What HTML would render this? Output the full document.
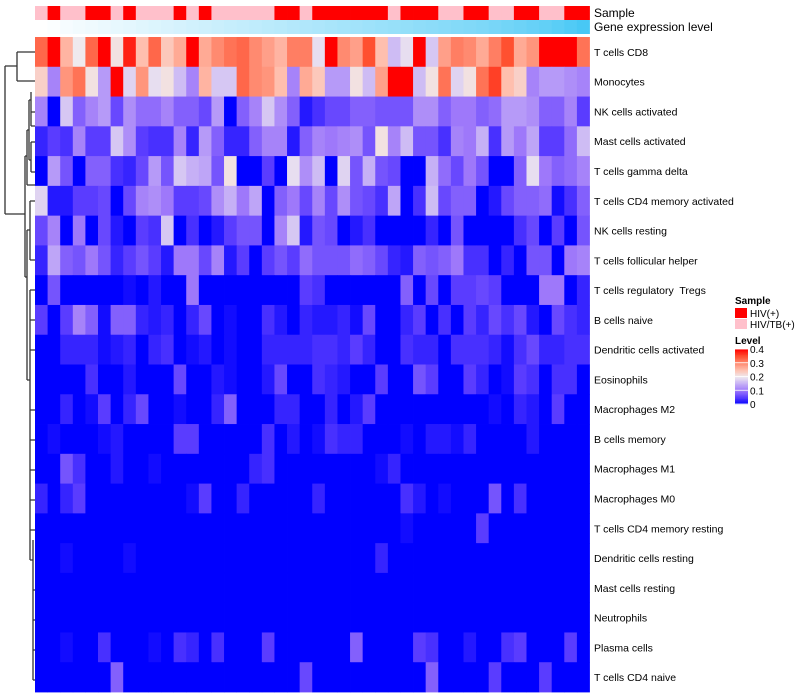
<!DOCTYPE html>
<html><head><meta charset="utf-8">
<style>
body{margin:0;background:#fff;}
svg{display:block;font-family:"Liberation Sans",sans-serif;}
</style></head>
<body>
<svg id="chart" width="800" height="700">
<g id="dendro" stroke="#333" stroke-width="1.3" fill="none">
<path d="M5,66 H17 M17,52 V81 M17,52 H35 M17,81 H35"/>
<path d="M5,66 V214 M5,214 H25"/>
<path d="M25,156 V277 M25,156 H27 M27,130 V185 M27,185 H35 M27,130 H29 M29,100 V160 M29,100 H31 M31,92 V126 M31,112 H35 M31,126 H35 M29,160 H31 M31,142 V172 M31,142 H35 M31,172 H35"/>
<path d="M25,277 H27 M27,230 V380 M27,230 H30 M30,201 V260 M30,201 H35 M30,260 H35 M27,380 H30 M30,290 V560 M30,290 H35 M30,320 H35 M30,350 H35 M30,410 H35 M30,440 H35 M30,470 H35 M30,500 H35 M30,530 H35 M30,560 H33 M33,540 V680 M33,590 H35 M33,620 H35 M33,650 H35 M33,680 H35"/>
</g>
<g id="annot"></g>
<g id="cells"></g>
<g id="rowlabels" font-size="10.5" fill="#000"></g>
<text x="594" y="17" font-size="12">Sample</text>
<text x="594" y="31" font-size="12">Gene expression level</text>
<g font-size="10">
<text x="735" y="304" font-weight="bold">Sample</text>
<rect x="735" y="308" width="12" height="10" fill="#ff0000"/>
<text x="750" y="317">HIV(+)</text>
<rect x="735" y="319" width="12" height="10" fill="#ffc0cb"/>
<text x="750" y="328">HIV/TB(+)</text>
<text x="735" y="344" font-weight="bold">Level</text>
<g id="colorbar"></g>
</g>
</svg>
<script>
const rowNames=["T cells CD8","Monocytes","NK cells activated","Mast cells activated","T cells gamma delta","T cells CD4 memory activated","NK cells resting","T cells follicular helper","T cells regulatory\u00a0 Tregs","B cells naive","Dendritic cells activated","Eosinophils","Macrophages M2","B cells memory","Macrophages M1","Macrophages M0","T cells CD4 memory resting","Dendritic cells resting","Mast cells resting","Neutrophils","Plasma cells","T cells CD4 naive"];
const sampleGroup=[1,0,1,1,0,0,1,0,1,1,1,0,1,0,1,1,1,1,1,0,0,1,0,0,0,0,0,0,1,0,0,0,1,1,0,0,1,1,0,0,1,1,0,0];
const geneExpr=[0,0.02,0.05,0.07,0.09,0.11,0.13,0.15,0.17,0.19,0.21,0.23,0.25,0.27,0.29,0.31,0.33,0.35,0.37,0.39,0.41,0.43,0.45,0.47,0.49,0.51,0.53,0.55,0.57,0.59,0.61,0.63,0.65,0.67,0.69,0.71,0.74,0.77,0.8,0.83,0.86,0.9,0.95,1];
const r0=[0.33,0.4,0.26,0.2,0.33,0.4,0.21,0.38,0.25,0.33,0.24,0.27,0.4,0.27,0.3,0.32,0.33,0.3,0.28,0.26,0.31,0.31,0.19,0.4,0.3,0.28,0.35,0.25,0.16,0.19,0.4,0.17,0.28,0.31,0.3,0.27,0.31,0.35,0.27,0.29,0.4,0.4,0.4,0.32];
const r1=[0.23,0.11,0.29,0.32,0.21,0.13,0.4,0.18,0.29,0.19,0.21,0.16,0.11,0.26,0.17,0.17,0.33,0.3,0.29,0.25,0.11,0.27,0.24,0.13,0.13,0.21,0.16,0.28,0.4,0.4,0.16,0.21,0.32,0.18,0.21,0.32,0.36,0.25,0.23,0.11,0.13,0.13,0.12,0.11];
const r2=[0.11,0,0.17,0.08,0.11,0.13,0.06,0.12,0.09,0.09,0.11,0.08,0.08,0.06,0.13,0,0.08,0.11,0.17,0.12,0.08,0.02,0.04,0.06,0.06,0.08,0.08,0.07,0.07,0.07,0.12,0.12,0.08,0.1,0.1,0.08,0.09,0.13,0.13,0.12,0.08,0.08,0.11,0.05];
const r3=[0.03,0.05,0.04,0.11,0.05,0.05,0.17,0.12,0.05,0.04,0.04,0.11,0.03,0.13,0.08,0.03,0.03,0.08,0.11,0.11,0.02,0.08,0.11,0.1,0.11,0.12,0.07,0.21,0.11,0.16,0.07,0.07,0.04,0.11,0.1,0.15,0.04,0.13,0.1,0.14,0.05,0.05,0.09,0.16];
const r4=[0,0.13,0.07,0,0.08,0.08,0.04,0.03,0.06,0.13,0.07,0.17,0.15,0.14,0.07,0.21,0,0,0.05,0,0.19,0.12,0.16,0,0.18,0.07,0.15,0.07,0.06,0,0,0.15,0.09,0.06,0.1,0.07,0,0,0.08,0.19,0.1,0.08,0.09,0.11];
const r5=[0.18,0.02,0.02,0.05,0.05,0.06,0,0.06,0.11,0.12,0.1,0.05,0.05,0.06,0.12,0.15,0.1,0.14,0,0.08,0.1,0.06,0.11,0.06,0.12,0.07,0.06,0.04,0.14,0,0.04,0.16,0.06,0.08,0.08,0,0.02,0.06,0.08,0.08,0.09,0.01,0.04,0.08];
const r6=[0.06,0.11,0,0.1,0,0.06,0.02,0,0.05,0.04,0.17,0,0.04,0,0.02,0.05,0.07,0.07,0,0.11,0.17,0.02,0.07,0.06,0,0.02,0.04,0,0,0,0,0.03,0,0.07,0,0,0,0,0.04,0.06,0,0.05,0,0.07];
const r7=[0.03,0.14,0.08,0.07,0.1,0.07,0.03,0.05,0.07,0.05,0.02,0.1,0.1,0.06,0.11,0.02,0.05,0,0.05,0.07,0.05,0.09,0.07,0.07,0.07,0.09,0.08,0.06,0.03,0.02,0.08,0.07,0.08,0.1,0.04,0.04,0,0.03,0,0.07,0.07,0,0.1,0.11];
const r8=[0,0.07,0,0,0,0,0,0.01,0,0.02,0,0,0.1,0,0,0,0,0,0,0,0,0.05,0.04,0,0,0,0,0,0,0.08,0,0.06,0,0.05,0.05,0.06,0.05,0,0,0,0.1,0.1,0,0.03];
const r9=[0.05,0,0.05,0.11,0.08,0.01,0.08,0.08,0.03,0.02,0.03,0,0.03,0.06,0,0.01,0,0,0.04,0.02,0,0.03,0.02,0.02,0.03,0.01,0.06,0,0,0.03,0.05,0,0.04,0,0.05,0.03,0.06,0.04,0.06,0.02,0,0.06,0.04,0.03];
const r10=[0,0,0.03,0.03,0.03,0.01,0.02,0.03,0,0.03,0.04,0,0.01,0.02,0,0.01,0,0,0.03,0.03,0.03,0.03,0.04,0.04,0.03,0.05,0.03,0,0,0.04,0.03,0.03,0,0.04,0.04,0.04,0.03,0.01,0.04,0.06,0.03,0.03,0.04,0.04];
const r11=[0,0,0,0,0.04,0,0,0.02,0,0,0,0.06,0,0,0.02,0.01,0,0,0.02,0.06,0,0,0.04,0.03,0.02,0,0,0.05,0,0,0.07,0.05,0,0,0.05,0.03,0,0.01,0.05,0.04,0,0.04,0.04,0];
const r12=[0,0,0.03,0,0.01,0.05,0,0.03,0.06,0,0,0.01,0,0,0.03,0.08,0,0,0,0.03,0.03,0,0,0.03,0,0.02,0.05,0,0,0,0,0,0,0,0,0,0.01,0,0.03,0.02,0,0.05,0,0];
const r13=[0,0.01,0,0,0,0.01,0.02,0,0,0,0,0.05,0.05,0,0,0,0,0,0.04,0,0.02,0,0.01,0.04,0.03,0.03,0,0,0,0.01,0,0.02,0.02,0.01,0.03,0,0,0,0,0.02,0,0,0,0];
const r14=[0,0,0.07,0.04,0,0,0.02,0,0,0.01,0,0,0,0,0,0,0,0.03,0.04,0,0,0,0,0,0,0,0,0.01,0.03,0,0,0,0,0,0,0,0,0,0,0,0,0,0,0];
const r15=[0.03,0,0.03,0.05,0,0,0,0,0,0,0,0,0.01,0.05,0,0,0.03,0,0,0,0,0,0.03,0,0,0,0,0,0,0.04,0.02,0,0.01,0,0,0,0.07,0,0.04,0,0,0,0,0];
const r16=[0,0,0,0,0,0,0,0,0,0,0,0,0,0,0,0,0,0,0,0,0,0,0,0,0,0,0,0,0,0.01,0,0,0,0,0,0.05,0,0,0,0,0,0,0,0];
const r17=[0,0,0.01,0,0,0,0,0.01,0,0,0,0,0,0,0,0,0,0,0,0,0,0,0,0,0,0,0,0.03,0,0,0,0,0,0,0,0,0,0,0,0,0,0,0,0];
const r18=[0,0,0,0,0,0,0,0,0,0,0,0,0,0,0,0,0,0,0,0,0,0,0,0,0,0,0,0,0,0,0,0,0,0,0,0,0,0,0,0,0,0,0,0];
const r19=[0,0,0,0,0,0,0,0,0,0,0,0,0,0,0,0,0,0,0,0,0,0,0,0,0,0,0,0,0,0,0,0,0,0,0,0,0,0,0,0,0,0,0,0];
const r20=[0,0,0.01,0,0,0.04,0,0,0,0.01,0,0.04,0.03,0,0.04,0,0,0,0.05,0,0,0,0,0,0,0.08,0,0,0,0,0.05,0.04,0,0,0.02,0,0,0.04,0.05,0,0,0,0.05,0];
const r21=[0,0,0,0,0,0,0.08,0,0,0,0,0,0,0,0,0,0,0,0,0,0,0.06,0,0,0,0,0,0,0,0,0,0.08,0,0,0,0,0.05,0,0,0,0.05,0,0,0];
const rows=[r0,r1,r2,r3,r4,r5,r6,r7,r8,r9,r10,r11,r12,r13,r14,r15,r16,r17,r18,r19,r20,r21];
const levelTicks=[0,0.1,0.2,0.3,0.4];

const NS="http://www.w3.org/2000/svg";
const X0=35,X1=589.5,Y0=37,Y1=692;
const nCol=sampleGroup.length,nRow=rowNames.length;
const cw=(X1-X0)/nCol,rh=(Y1-Y0)/nRow;
function xPos(i){return X0+i*cw;}
function yPos(j){return Y0+j*rh;}
const stops=[[0,[0,0,255]],[0.05,[90,60,255]],[0.1,[158,120,250]],[0.15,[198,176,246]],[0.2,[239,234,238]],[0.25,[255,191,174]],[0.3,[255,138,112]],[0.35,[255,80,48]],[0.4,[255,0,0]]];
function color(v){
  v=Math.max(0,Math.min(0.4,v));
  for(let k=1;k<stops.length;k++){
    if(v<=stops[k][0]){const a=stops[k-1],b=stops[k];const t=(v-a[0])/(b[0]-a[0]);
      const c=a[1].map((q,i)=>Math.round(q+(b[1][i]-q)*t));return `rgb(${c[0]},${c[1]},${c[2]})`;}
  }
  return "rgb(255,0,0)";
}
function geneColor(g){const a=[255,255,255],b=[72,200,245];const c=a.map((q,i)=>Math.round(q+(b[i]-q)*g));return `rgb(${c[0]},${c[1]},${c[2]})`;}
const cells=document.getElementById('cells');
rows.forEach((row,j)=>{row.forEach((v,i)=>{
  const r=document.createElementNS(NS,'rect');
  r.setAttribute('x',xPos(i));r.setAttribute('y',yPos(j));
  r.setAttribute('width',cw+0.4);r.setAttribute('height',rh+0.4);
  r.setAttribute('fill',color(v));
  
  
  cells.appendChild(r);
});});
const annot=document.getElementById('annot');
sampleGroup.forEach((s,i)=>{
  const r=document.createElementNS(NS,'rect');
  r.setAttribute('x',xPos(i));r.setAttribute('y',6);r.setAttribute('width',cw+0.4);r.setAttribute('height',14);
  r.setAttribute('fill',s===0?'#ff0000':'#ffc0cb');
  
  
  annot.appendChild(r);
  const g=document.createElementNS(NS,'rect');
  g.setAttribute('x',xPos(i));g.setAttribute('y',20);g.setAttribute('width',cw+0.4);g.setAttribute('height',14);
  g.setAttribute('fill',geneColor(geneExpr[i]));
  
  
  annot.appendChild(g);
});
const rl=document.getElementById('rowlabels');
rowNames.forEach((n,j)=>{
  const t=document.createElementNS(NS,'text');
  t.setAttribute('x',594);t.setAttribute('y',yPos(j)+rh/2+4);
  t.textContent=n;
  
  
  rl.appendChild(t);
});
const cb=document.getElementById('colorbar');
const CB0=404,CB1=349;
for(let k=0;k<40;k++){
  const v=0.4*k/40;
  const r=document.createElementNS(NS,'rect');
  r.setAttribute('x',735);r.setAttribute('y',CB0-(k+1)*(CB0-CB1)/40);
  r.setAttribute('width',13);r.setAttribute('height',(CB0-CB1)/40+0.5);
  r.setAttribute('fill',color(v+0.005));
  
  
  cb.appendChild(r);
}
levelTicks.forEach(v=>{
  const y=CB0-(v/0.4)*(CB0-CB1);
  const l=document.createElementNS(NS,'line');
  l.setAttribute('x1',735);l.setAttribute('x2',748);l.setAttribute('y1',y);l.setAttribute('y2',y);
  l.setAttribute('stroke','#fff');l.setAttribute('stroke-width','0.8');
  
  
  cb.appendChild(l);
  const t=document.createElementNS(NS,'text');
  t.setAttribute('x',750);t.setAttribute('y',y+4);t.setAttribute('font-size','10');
  t.textContent=String(v);
  
  
  cb.appendChild(t);
});
</script>
</body></html>
